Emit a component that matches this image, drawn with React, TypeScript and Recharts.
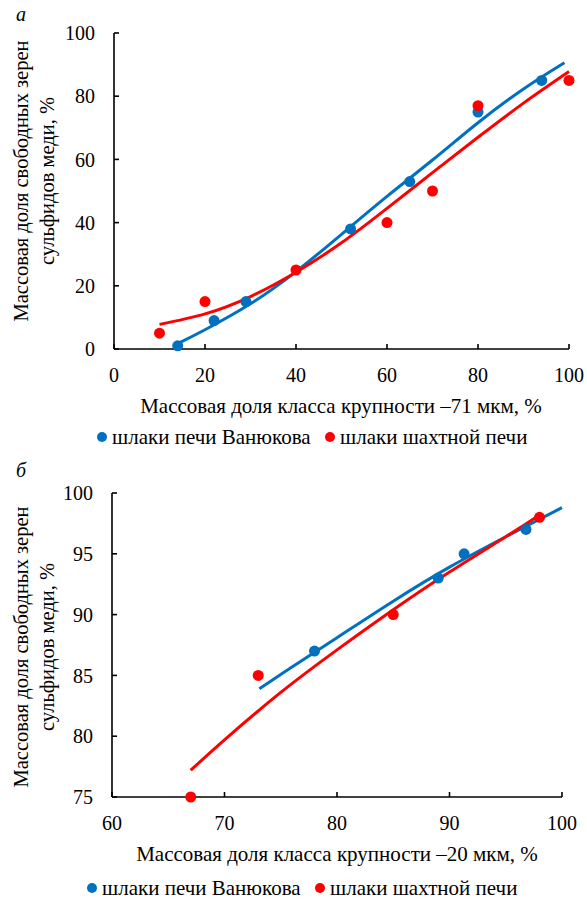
import React from 'react';
import { ComposedChart, Scatter, Line, XAxis, YAxis } from 'recharts';

// panel "а": fraction -71 µm
const topTicks = [0, 20, 40, 60, 80, 100];
const topVanX = [14, 22, 29, 52, 65, 80, 94];
const topVanY = [1, 9, 15, 38, 53, 75, 85];
const topShaftX = [10, 20, 40, 60, 70, 80, 100];
const topShaftY = [5, 15, 25, 40, 50, 77, 85];
// trend lines
const topVanFitX = [14, 20, 30, 40, 50, 60, 70, 80, 90, 99];
const topVanFitY = [1.7, 6.1, 14.3, 24.5, 36.3, 48.3, 59.8, 71.6, 82.3, 90.6];
const topShaftFitX = [10, 20, 30, 40, 50, 60, 70, 80, 90, 100];
const topShaftFitY = [7.8, 11.1, 16.6, 24.3, 33.6, 44.5, 55.8, 67, 77.8, 87.8];

// panel "б": fraction -20 µm
const botXTicks = [60, 70, 80, 90, 100];
const botYTicks = [75, 80, 85, 90, 95, 100];
const botVanX = [78, 89, 91.3, 96.8];
const botVanY = [87, 93, 95, 97];
const botShaftX = [67, 73, 85, 98];
const botShaftY = [75, 85, 90, 98];
const botVanFitX = [73.1, 76, 80, 85, 90, 95, 100];
const botVanFitY = [83.9, 85.7, 88.1, 91.1, 93.9, 96.4, 98.8];
const botShaftFitX = [67, 70, 75, 80, 85, 90, 95, 98];
const botShaftFitY = [77.2, 79.7, 83.6, 87.1, 90.4, 93.5, 96.4, 98.2];

const seriesNames = ['шлаки печи Ванюкова', 'шлаки шахтной печи'];
const yTitle = ['Массовая доля свободных зерен', 'сульфидов меди, %'];

const BLUE = '#0070C0';
const RED = '#FF0000';
const FONT = "'Liberation Serif', 'Times New Roman', Tinos, 'DejaVu Serif', serif";

const zip = (xs: number[], ys: number[]) => xs.map((x, i) => ({ x, y: ys[i] }));

const dot = (color: string) => (props: any) => (
  <circle cx={props.cx} cy={props.cy} r={5.5} fill={color} />
);

const tickStyle = { fill: '#000', fontSize: 20, fontFamily: FONT };
const axisStroke = { stroke: '#000', strokeWidth: 1.6 };

interface PanelProps {
  top: number;
  height: number;
  margin: { top: number; right: number; bottom: number; left: number };
  xDomain: [number, number];
  yDomain: [number, number];
  xTicks: number[];
  yTicks: number[];
  van: { x: number; y: number }[];
  shaft: { x: number; y: number }[];
  vanFit: { x: number; y: number }[];
  shaftFit: { x: number; y: number }[];
  letter: string;
  letterPos: [number, number];
  yTitleCenter: number;
  xTitle: string;
  xTitleY: number;
  xTitleX: number;
  legendY: number;
  legendX: [number, number];
}

const Panel: React.FC<PanelProps> = (p) => (
  <div style={{ position: 'absolute', left: 0, top: p.top, width: 587, height: p.height, fontFamily: FONT, color: '#000' }}>
    <ComposedChart width={587} height={p.height} margin={p.margin}>
      <XAxis
        type="number"
        dataKey="x"
        domain={p.xDomain}
        ticks={p.xTicks}
        interval={0}
        height={30}
        tickSize={-5}
        tickMargin={24}
        axisLine={axisStroke}
        tickLine={axisStroke}
        tick={tickStyle}
      />
      <YAxis
        type="number"
        dataKey="y"
        domain={p.yDomain}
        ticks={p.yTicks}
        interval={0}
        width={50}
        tickSize={-5}
        tickMargin={24}
        axisLine={axisStroke}
        tickLine={axisStroke}
        tick={tickStyle}
      />
      <Scatter data={p.van} dataKey="y" shape={dot(BLUE)} isAnimationActive={false} />
      <Scatter data={p.shaft} dataKey="y" shape={dot(RED)} isAnimationActive={false} />
      <Line data={p.vanFit} dataKey="y" type="natural" dot={false} stroke={BLUE} strokeWidth={3} isAnimationActive={false} />
      <Line data={p.shaftFit} dataKey="y" type="natural" dot={false} stroke={RED} strokeWidth={3} isAnimationActive={false} />
    </ComposedChart>

    <div style={{ position: 'absolute', left: p.letterPos[0], top: p.letterPos[1], fontStyle: 'italic', fontSize: 20, lineHeight: '20px' }}>
      {p.letter}
    </div>

    <div
      style={{
        position: 'absolute',
        left: 34,
        top: p.yTitleCenter,
        transform: 'translate(-50%, -50%) rotate(-90deg)',
        whiteSpace: 'nowrap',
        textAlign: 'center',
        fontSize: 20.5,
        lineHeight: '26px',
      }}
    >
      {yTitle[0]}
      <br />
      {yTitle[1]}
    </div>

    <div
      style={{
        position: 'absolute',
        left: p.xTitleX,
        top: p.xTitleY,
        transform: 'translate(-50%, -50%)',
        whiteSpace: 'nowrap',
        fontSize: 21,
        lineHeight: '22px',
      }}
    >
      {p.xTitle}
    </div>

    {seriesNames.map((name, i) => (
      <div
        key={name}
        style={{
          position: 'absolute',
          left: p.legendX[i] - 5,
          top: p.legendY,
          transform: 'translateY(-50%)',
          display: 'flex',
          alignItems: 'center',
          whiteSpace: 'nowrap',
          fontSize: 21,
          lineHeight: '18px',
        }}
      >
        <span style={{ width: 10, height: 10, borderRadius: 5, background: i === 0 ? BLUE : RED, marginRight: 5 }} />
        {name}
      </div>
    ))}
  </div>
);

export default function App() {
  return (
    <div style={{ position: 'absolute', left: 0, top: 0, width: 587, height: 901, background: '#fff' }}>
      <Panel
        top={0}
        height={450}
        margin={{ top: 33, right: 18, bottom: 71, left: 64 }}
        xDomain={[0, 100]}
        yDomain={[0, 100]}
        xTicks={topTicks}
        yTicks={topTicks}
        van={zip(topVanX, topVanY)}
        shaft={zip(topShaftX, topShaftY)}
        vanFit={zip(topVanFitX, topVanFitY)}
        shaftFit={zip(topShaftFitX, topShaftFitY)}
        letter="а"
        letterPos={[16, 4]}
        yTitleCenter={181}
        xTitle="Массовая доля класса крупности –71 мкм, %"
        xTitleX={341}
        xTitleY={406}
        legendY={437}
        legendX={[102, 330]}
      />
      <Panel
        top={450}
        height={451}
        margin={{ top: 43, right: 25, bottom: 74, left: 62 }}
        xDomain={[60, 100]}
        yDomain={[75, 100]}
        xTicks={botXTicks}
        yTicks={botYTicks}
        van={zip(botVanX, botVanY)}
        shaft={zip(botShaftX, botShaftY)}
        vanFit={zip(botVanFitX, botVanFitY)}
        shaftFit={zip(botShaftFitX, botShaftFitY)}
        letter="б"
        letterPos={[16, 10]}
        yTitleCenter={197}
        xTitle="Массовая доля класса крупности –20 мкм, %"
        xTitleX={337}
        xTitleY={404}
        legendY={438}
        legendX={[92, 320]}
      />
    </div>
  );
}
